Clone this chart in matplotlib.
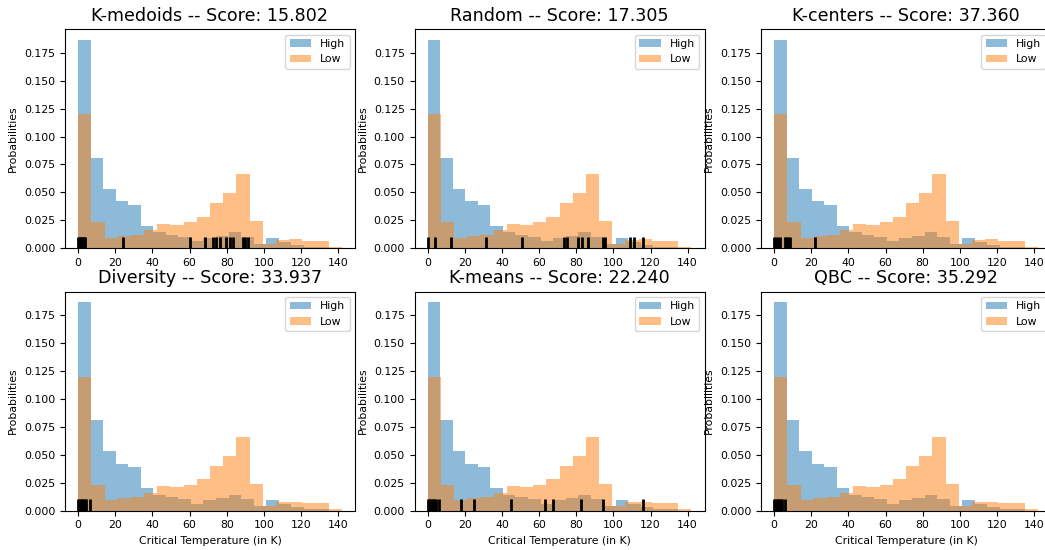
import numpy as np
import matplotlib
matplotlib.use('Agg')
import matplotlib.pyplot as plt

# === data ===
methods = ['K-medoids', 'Random', 'K-centers', 'Diversity', 'K-means', 'QBC']
scores = [15.802, 17.305, 37.360, 33.937, 22.240, 35.292]

# histogram of high-Tc group (20 bins, 0 .. 135 K)
high_edges = np.linspace(0, 135, 21)
high_probs = [0.187, 0.081, 0.053, 0.042, 0.039, 0.020, 0.014, 0.012, 0.010, 0.006,
              0.009, 0.011, 0.014, 0.010, 0.004, 0.009, 0.0055, 0.003, 0.001, 0.001]

# histogram of low-Tc group (20 bins, 0 .. 142 K)
low_edges = np.linspace(0, 142, 21)
low_probs = [0.120, 0.023, 0.009, 0.011, 0.012, 0.016, 0.022, 0.021, 0.023, 0.028,
             0.040, 0.049, 0.066, 0.024, 0.004, 0.0075, 0.008, 0.0063, 0.0063, 0.001]

# selected samples for each method (rug marks)
picked_kmedoids = [0.0, 0.5, 1.0, 1.5, 2.0, 2.5, 3.0, 3.5, 24.2, 60.0, 68.2, 72.8, 74.0,
                   76.6, 79.7, 81.6, 83.2, 89.0, 90.0, 91.3]
picked_random = [0.0, 3.8, 12.3, 31.4, 50.6, 73.3, 74.8, 81.1, 82.9, 86.1, 94.4, 95.5,
                 109.0, 111.2, 116.2]
picked_kcenters = [0.0, 1.0, 2.0, 3.0, 5.6, 6.6, 7.6, 8.4, 21.8]
picked_diversity = [0.0, 0.7, 1.4, 2.1, 2.8, 3.5, 4.3, 6.3]
picked_kmeans = [0.0, 0.7, 1.4, 2.1, 2.8, 3.5, 4.2, 6.1, 17.8, 24.9, 44.7, 63.0, 67.4,
                 82.3, 94.4, 115.7]
picked_qbc = [0.0, 0.7, 1.4, 2.1, 2.8, 3.5, 4.2, 6.1]
picked = [picked_kmedoids, picked_random, picked_kcenters,
          picked_diversity, picked_kmeans, picked_qbc]

# === figure ===
fig = plt.figure(figsize=(10.45, 5.5), dpi=100)
fs = 7.8
lefts = [0.0622, 0.3967, 0.7282]
bottoms = [0.549, 0.0718]
w, h = 0.2775, 0.398

for i, name in enumerate(methods):
    row, col = divmod(i, 3)
    ax = fig.add_axes([lefts[col], bottoms[row], w, h])
    ax.hist(high_edges[:-1], bins=high_edges, weights=high_probs, alpha=0.5, label='High')
    ax.hist(low_edges[:-1], bins=low_edges, weights=low_probs, alpha=0.5, label='Low')
    ax.vlines(picked[i], 0, 0.0102, color='k', lw=2)
    ax.set_ylim(bottom=0)
    ax.set_title(f"{name} -- Score: {scores[i]:.3f}", fontsize=12.6)
    ax.set_ylabel('Probabilities', fontsize=fs)
    if row == 1:
        ax.set_xlabel('Critical Temperature (in K)', fontsize=fs)
    ax.tick_params(labelsize=fs)
    ax.set_xticks(np.arange(0, 141, 20))
    ax.legend(loc='upper right', fontsize=fs)

fig.savefig('out.png', dpi=100)
